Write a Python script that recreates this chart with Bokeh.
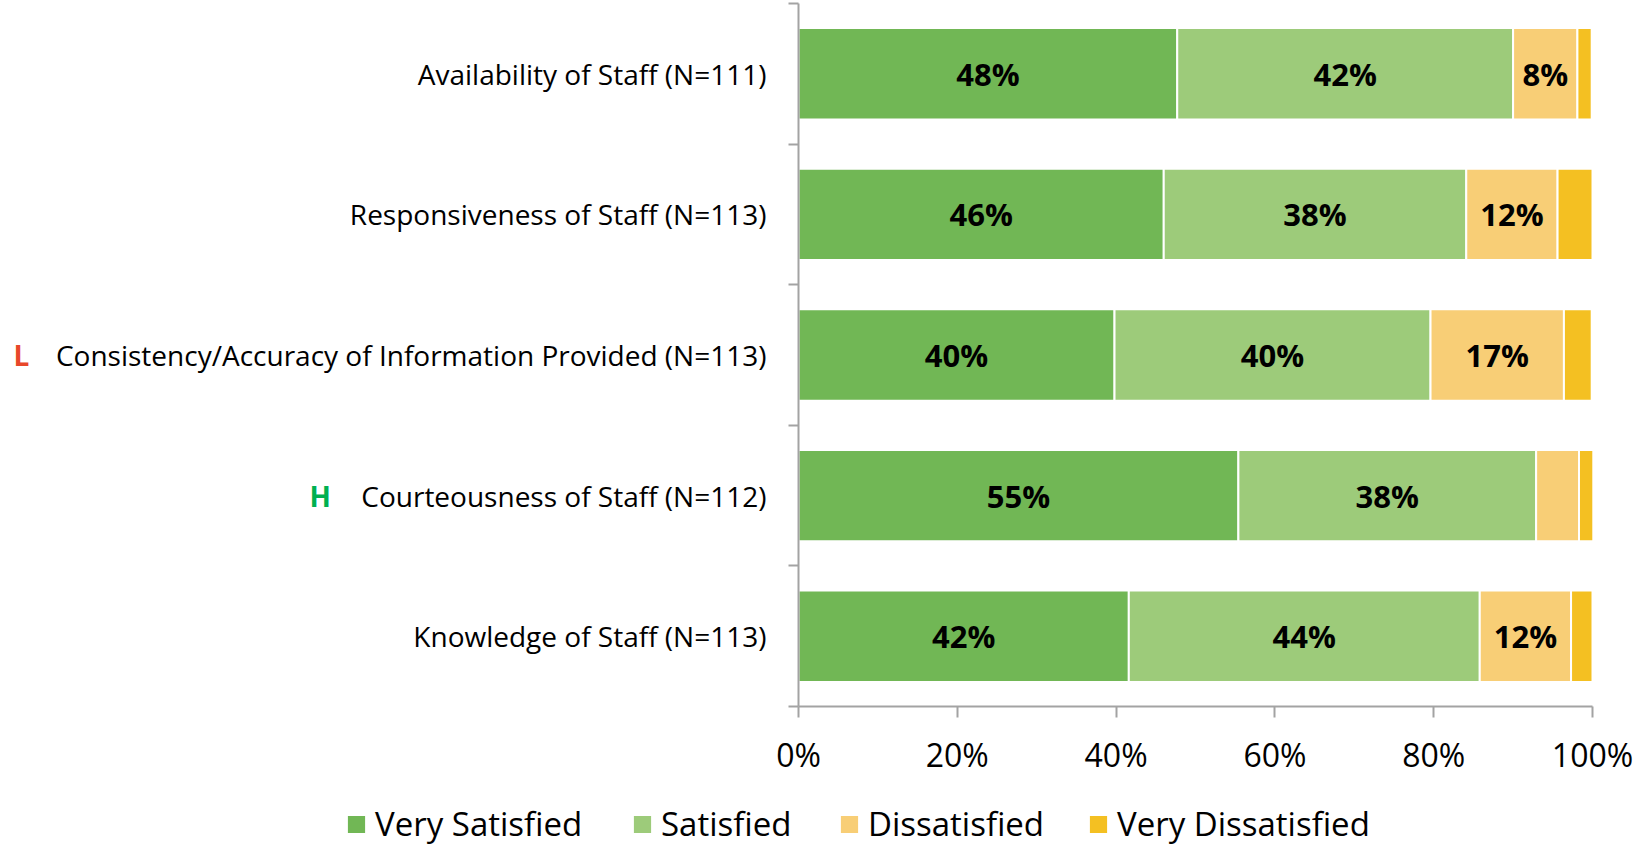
from bokeh.plotting import figure
from bokeh.models import (ColumnDataSource, Range1d, FixedTicker, Legend, LegendItem,
                          Label, LinearAxis)
from bokeh.core.properties import value
from bokeh.embed import file_html
from bokeh.resources import INLINE

# ---- data ----
categories = [
    "Availability of Staff (N=111)",
    "Responsiveness of Staff (N=113)",
    "Consistency/Accuracy of Information Provided (N=113)",
    "Courteousness of Staff (N=112)",
    "Knowledge of Staff (N=113)",
]
markers = ["", "", "L", "H", ""]
marker_colors = ["#000000", "#000000", "#E8472A", "#00B050", "#000000"]
series = ["Very Satisfied", "Satisfied", "Dissatisfied", "Very Dissatisfied"]
very_satisfied = [47.7, 46.0, 39.8, 55.4, 41.6]
satisfied = [42.3, 38.1, 39.8, 37.5, 44.2]
dissatisfied = [8.1, 11.5, 16.8, 5.4, 11.5]
very_dissatisfied = [1.8, 4.4, 3.5, 1.8, 2.7]
x_ticks = [0, 20, 40, 60, 80, 100]
colors = ["#71B755", "#9DCB7A", "#F8CE76", "#F4C022"]

# ---- layout constants (screen pixels) ----
FONT = "Open Sans"
W, H = 1642, 846
AX_LEFT, AX_RIGHT = 798, 1592      # screen x of 0% and 100%
AX_TOP, BAND = 3, 140.6            # screen y of plot top, px per category
PX = (AX_RIGHT - AX_LEFT) / 100.0
n = len(categories)

x_range = Range1d(-AX_LEFT / PX, (W - AX_LEFT) / PX)
y_range = Range1d(-0.5 + (H - AX_TOP) / BAND, -0.5 - AX_TOP / BAND)

ys = list(range(n))
data = {"y": ys}
for name, vals in zip(series, [very_satisfied, satisfied, dissatisfied, very_dissatisfied]):
    data[name] = vals
src = ColumnDataSource(data)

p = figure(width=W, height=H, output_backend="svg", toolbar_location=None,
           x_range=x_range, y_range=y_range, x_axis_type=None, y_axis_type=None,
           min_border=0, min_border_left=0, min_border_right=0,
           min_border_top=0, min_border_bottom=0)
p.outline_line_color = None
p.xgrid.visible = False
p.ygrid.visible = False
p.background_fill_color = "white"
p.border_fill_color = "white"

renderers = p.hbar_stack(series, y="y", height=0.65, color=colors, source=src,
                         line_color="white", line_width=2)

# bar value labels
lx, ly, lt = [], [], []
all_vals = [very_satisfied, satisfied, dissatisfied, very_dissatisfied]
for i in ys:
    left = 0.0
    for vals in all_vals:
        v = vals[i]
        if v >= 7.5:
            lx.append(left + v / 2)
            ly.append(i)
            lt.append(f"{round(v)}%")
        left += v
lsrc = ColumnDataSource(dict(x=lx, y=ly, text=lt))
p.text(x="x", y="y", text="text", source=lsrc, text_align="center",
       text_baseline="middle", text_font=value(FONT), text_font_style="bold",
       text_font_size="31px", text_color="black")

axis_color = "#A3A3A3"
# x axis, fixed at the bottom of the category bands
xa = LinearAxis(fixed_location=n - 0.5, bounds=(x_ticks[0], x_ticks[-1]))
xa.ticker = FixedTicker(ticks=x_ticks)
xa.major_label_overrides = {t: f"{t}%" for t in x_ticks}
xa.axis_line_color = axis_color
xa.axis_line_width = 2
xa.major_tick_line_color = axis_color
xa.major_tick_line_width = 2
xa.major_tick_out = 11
xa.major_tick_in = 0
xa.minor_tick_line_color = None
xa.major_label_standoff = 15
xa.major_label_text_font = FONT
xa.major_label_text_font_size = "32px"
xa.major_label_text_color = "black"
p.add_layout(xa, "below")

# y axis, fixed at 0%
ya = LinearAxis(fixed_location=0, bounds=(-0.5, n - 0.5))
ya.ticker = FixedTicker(ticks=ys, minor_ticks=[i - 0.5 for i in range(n + 1)])
ya.major_label_overrides = {i: c for i, c in zip(ys, categories)}
ya.axis_line_color = axis_color
ya.axis_line_width = 2
ya.major_tick_line_color = None
ya.major_tick_out = 0
ya.major_tick_in = 0
ya.minor_tick_line_color = axis_color
ya.minor_tick_line_width = 2
ya.minor_tick_out = 10
ya.minor_tick_in = 0
ya.major_label_standoff = 22
ya.major_label_text_font = FONT
ya.major_label_text_font_size = "28px"
ya.major_label_text_color = "black"
p.add_layout(ya, "left")

# L / H markers
marker_x = {"L": 13, "H": 309}
for i, (m, c) in enumerate(zip(markers, marker_colors)):
    if m:
        p.add_layout(Label(x=marker_x[m], x_units="screen", y=i, text=m,
                           text_align="left", text_baseline="middle",
                           text_color=c, text_font=FONT, text_font_style="bold",
                           text_font_size="28px"))

# legends (one per item for Excel-like spacing)
legend_x = [344, 630, 837, 1086]
for name, r, lxp in zip(series, renderers, legend_x):
    leg = Legend(items=[LegendItem(label=name, renderers=[r])],
                 location=(lxp, 0), orientation="horizontal",
                 glyph_width=24, glyph_height=24, label_standoff=7,
                 padding=0, margin=0, border_line_color=None,
                 background_fill_alpha=0, label_text_font=FONT,
                 label_text_font_size="33px", label_text_color="black")
    p.add_layout(leg)

open("out.html", "w").write(file_html(p, INLINE))
